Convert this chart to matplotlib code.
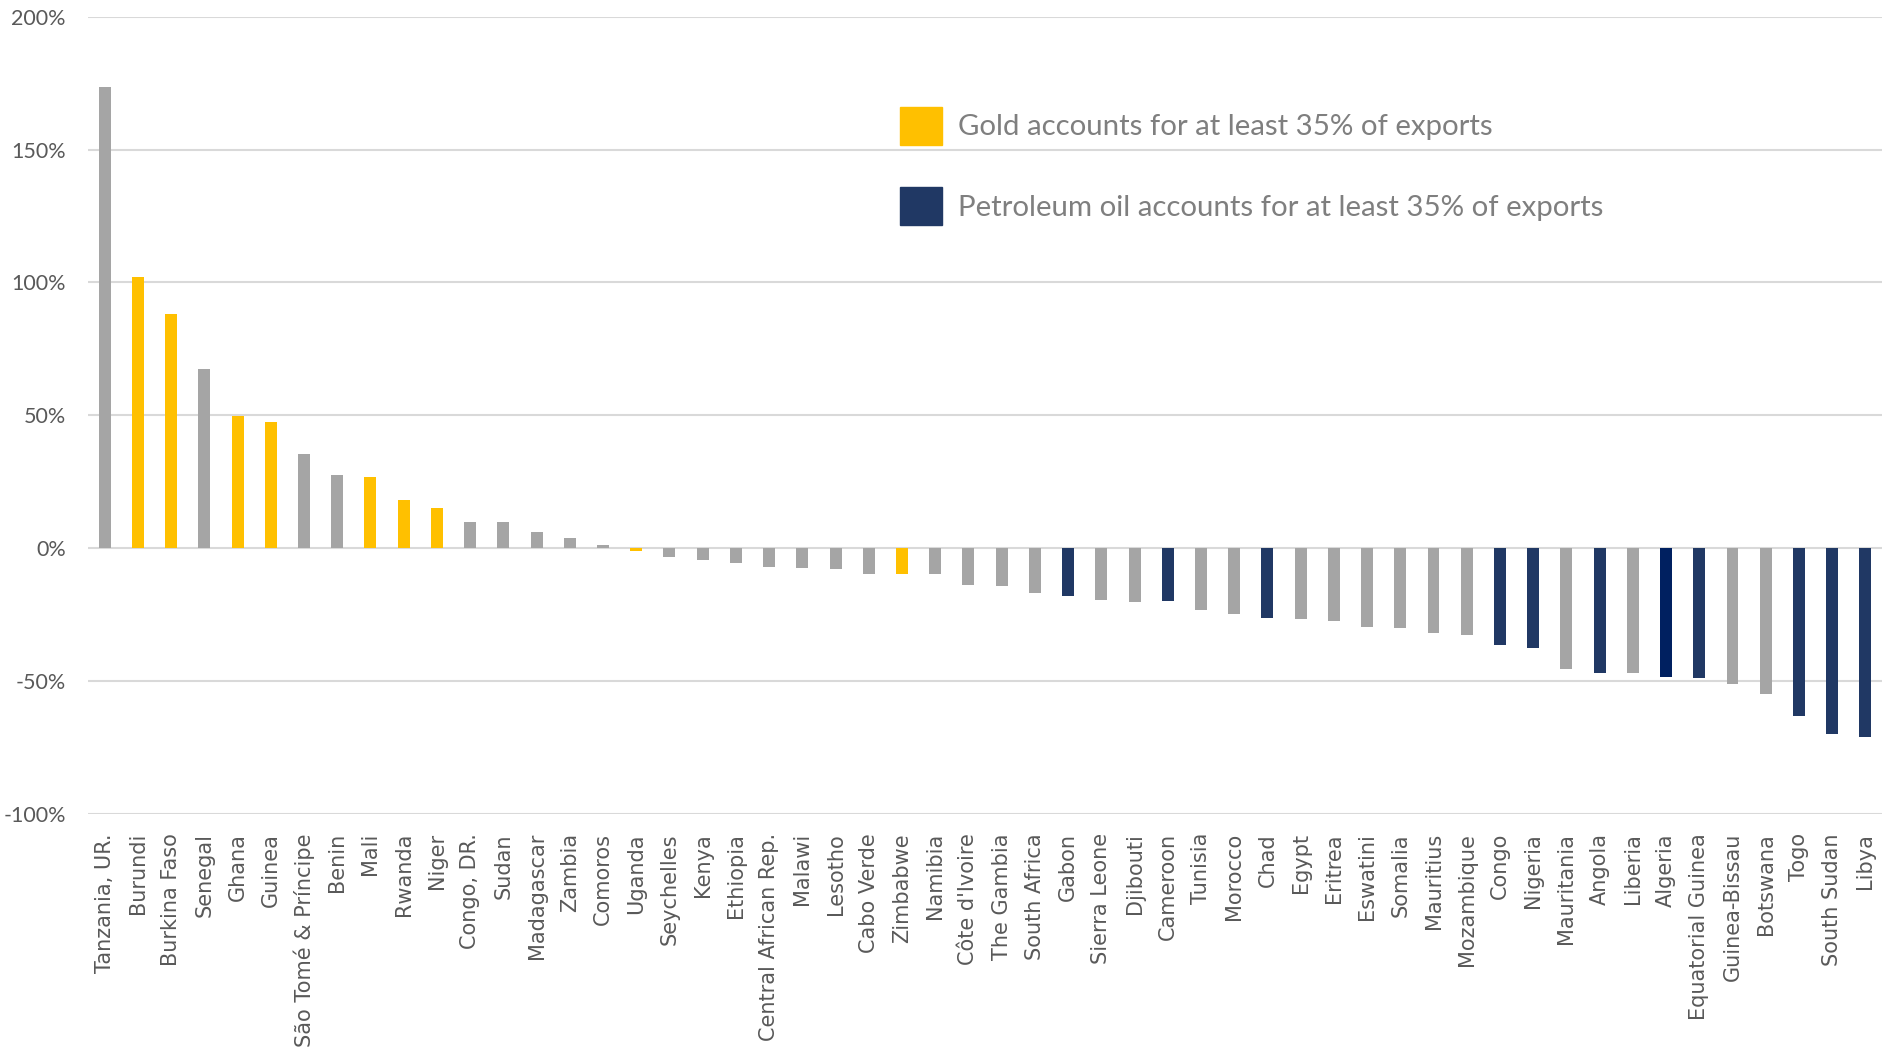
import numpy as np
import matplotlib as mpl
mpl.use('Agg')
import matplotlib.pyplot as plt
from matplotlib.patches import Patch

countries = ['Tanzania, UR.', 'Burundi', 'Burkina Faso', 'Senegal', 'Ghana', 'Guinea',
             'São Tomé & Príncipe', 'Benin', 'Mali', 'Rwanda', 'Niger', 'Congo, DR.',
             'Sudan', 'Madagascar', 'Zambia', 'Comoros', 'Uganda', 'Seychelles', 'Kenya',
             'Ethiopia', 'Central African Rep.', 'Malawi', 'Lesotho', 'Cabo Verde',
             'Zimbabwe', 'Namibia', "Côte d'Ivoire", 'The Gambia', 'South Africa', 'Gabon',
             'Sierra Leone', 'Djibouti', 'Cameroon', 'Tunisia', 'Morocco', 'Chad', 'Egypt',
             'Eritrea', 'Eswatini', 'Somalia', 'Mauritius', 'Mozambique', 'Congo', 'Nigeria',
             'Mauritania', 'Angola', 'Liberia', 'Algeria', 'Equatorial Guinea',
             'Guinea-Bissau', 'Botswana', 'Togo', 'South Sudan', 'Libya']

values = [173.6, 101.9, 88.2, 67.4, 49.7, 47.6,
          35.6, 27.4, 26.8, 18.2, 15.1, 9.8,
          9.7, 6.1, 3.7, 1.0, -1.3, -3.2, -4.4,
          -5.6, -7.0, -7.6, -8.0, -9.6,
          -9.7, -9.7, -14.0, -14.3, -16.8, -17.9,
          -19.7, -20.3, -20.1, -23.3, -24.7, -26.2, -26.6,
          -27.6, -29.7, -30.1, -31.9, -32.6, -36.4, -37.5,
          -45.5, -46.9, -47.2, -48.4, -48.8,
          -51.3, -55.1, -63.1, -69.9, -71.0]

# 'g' gold exporter, 'o' oil exporter, 'a' oil (darker shade), '' other
groups = ['', 'g', 'g', '', 'g', 'g',
          '', '', 'g', 'g', 'g', '',
          '', '', '', '', 'g', '', '',
          '', '', '', '', '',
          'g', '', '', '', '', 'o',
          '', '', 'o', '', '', 'o', '',
          '', '', '', '', '', 'o', 'o',
          '', 'o', '', 'a', 'o',
          '', '', 'o', 'o', 'o']

col_map = {'': '#A5A5A5', 'g': '#FFC000', 'o': '#203864', 'a': '#002060'}
colors = [col_map[g] for g in groups]

fig = plt.figure(figsize=(18.82, 10.58), dpi=100)
ax = fig.add_axes([0.0468, 0.231, 0.9532, 0.753])

x = np.arange(len(countries))
ax.bar(x, np.array(values) / 100, width=0.36, color=colors, zorder=3)

ax.set_xlim(-0.5, len(countries) - 0.5)
ax.set_ylim(-1.0, 2.0)
ax.set_yticks(np.arange(-1.0, 2.01, 0.5))
ax.set_yticklabels(['-100%', '-50%', '0%', '50%', '100%', '150%', '200%'],
                   fontsize=15.5, color='#595959', family=['Lato', 'DejaVu Sans'])
ax.grid(axis='y', color='#D9D9D9', linewidth=1.5, zorder=0)
ax.set_xticks(x)
ax.set_xticklabels(countries, rotation=90, fontsize=15, color='#595959',
                   family='DejaVu Sans')
ax.tick_params(axis='both', length=0)
ax.tick_params(axis='y', pad=16)
ax.tick_params(axis='x', pad=14)
for s in ax.spines.values():
    s.set_visible(False)

handles = [Patch(color='#FFC000', label='Gold accounts for at least 35% of exports'),
           Patch(color='#203864', label='Petroleum oil accounts for at least 35% of exports')]
leg = fig.legend(handles=handles, loc='upper left', bbox_to_anchor=(0.478, 0.899),
                 frameon=False, borderpad=0, borderaxespad=0,
                 handlelength=1.45, handleheight=1.6, handletextpad=0.55,
                 labelspacing=1.45, prop={'family': ['Lato', 'DejaVu Sans'], 'size': 21.2})
for t in leg.get_texts():
    t.set_color('#7F7F7F')

fig.savefig('out.png', dpi=100)
